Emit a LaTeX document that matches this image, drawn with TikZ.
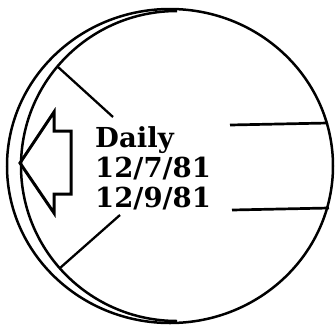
\documentclass[tikz,border=0pt]{standalone}
\usepackage{fontspec}
\setmainfont{DejaVu Serif}
\tikzset{
    rim/.style={line width=2.5pt},
    spoke/.style={line width=2.3pt},
    tray/.style={line width=2.7pt},
    hollowarrow/.style={line width=3pt, line join=miter},
    datelabel/.style={font=\fontsize{27.5}{30}\selectfont\bfseries, inner sep=0pt, anchor=base west}
}
\begin{document}
\begin{tikzpicture}[x=1pt, y=-1pt]

    \useasboundingbox (0,0) rectangle (335,325);

    % Disc and crescent rim
    \begin{scope}
        \clip (0,0) rectangle (335,325);
        \draw [rim] (170,166) ellipse [x radius=163, y radius=157];
        \begin{scope}
            \clip (170,166) ellipse [x radius=163.8, y radius=157.8];
            \draw [rim] (177,11) arc [start angle=-90, end angle=-270, x radius=156, y radius=155];
        \end{scope}
    \end{scope}

    % Spokes
    \coordinate (upperrim) at (58,67);
    \coordinate (upperend) at (113,117);
    \coordinate (lowerrim) at (60,268);
    \coordinate (lowerend) at (120,215);
    \draw [spoke] (upperrim) -- (upperend);
    \draw [spoke] (lowerrim) -- (lowerend);

    % Right-hand lines
    \coordinate (topstart) at (230,125);
    \coordinate (topedge) at (328,123);
    \coordinate (botstart) at (232,210);
    \coordinate (botedge) at (329,208);
    \draw [tray] (topstart) -- (topedge);
    \draw [tray] (botstart) -- (botedge);

    % Hollow arrow
    \draw [hollowarrow] (20,163) -- (54,112) -- (54,131) -- (71,131)
        -- (71,194) -- (54,194) -- (54,213) -- cycle;

    % Label
    \node (daily) [datelabel] at (95,147) {Daily};
    \node (firstdate) [datelabel] at (95,177) {12/7/81};
    \node (seconddate) [datelabel] at (95,207) {12/9/81};

\end{tikzpicture}
\end{document}
